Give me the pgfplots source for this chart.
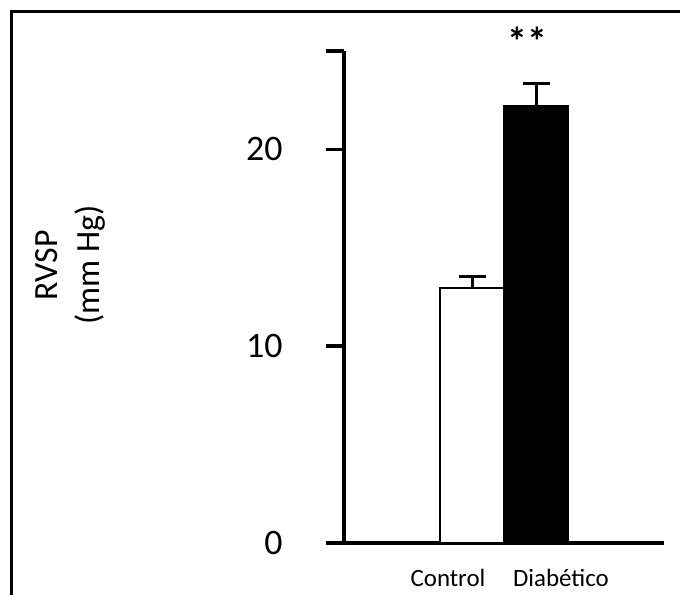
\documentclass[border=0pt]{standalone}
\usepackage{fontspec}
\setmainfont{Carlito}
\usepackage{pgfplots}
\pgfplotsset{compat=1.18}
\begin{document}
\begin{tikzpicture}[x=1bp,y=1bp]
\useasboundingbox (0,0) rectangle (680,595);
\draw[line width=3bp] (11,0) -- (11,583) -- (681,583);
\begin{axis}[
  at={(344bp,52bp)}, anchor=south west,
  scale only axis, width=320bp, height=492bp,
  xmin=-2, xmax=3, ymin=0, ymax=25,
  axis lines*=left,
  axis line style={line width=4bp, black},
  ytick={0,10,20,25}, yticklabels={0,10,20,{}},
  xtick={-0.375,1.39}, xticklabels={Control,Diabético},
  tick align=outside,
  major tick length=18bp,
  ytick style={line width=3.5bp, black},
  xtick style={draw=none},
  yticklabel style={font=\fontsize{36}{40}\selectfont, xshift=-40bp},
  xticklabel style={font=\fontsize{25}{30}\selectfont, yshift=-5bp},
  clip=false,
  bar width=1,
]
\addplot[ybar, bar shift=0, fill=white, draw=black, line width=2bp,
  error bars/.cd, y dir=plus, y explicit,
  error bar style={line width=3bp, black},
  error mark options={rotate=90, black, line width=3bp, mark size=13.5bp}]
  coordinates {(0,12.94) +- (0,0.61)};
\addplot[ybar, bar shift=0, fill=black, draw=black, line width=2bp,
  error bars/.cd, y dir=plus, y explicit,
  error bar style={line width=3bp, black},
  error mark options={rotate=90, black, line width=3bp, mark size=13.5bp}]
  coordinates {(1,22.18) +- (0,1.17)};
\node[font=\bfseries\fontsize{40}{40}\selectfont] at (axis cs:0.86,25.5) {**};
\end{axis}
\node[rotate=90, align=center, font=\fontsize{34}{42}\selectfont] at (70,330) {RVSP\\(mm Hg)};
\end{tikzpicture}
\end{document}
